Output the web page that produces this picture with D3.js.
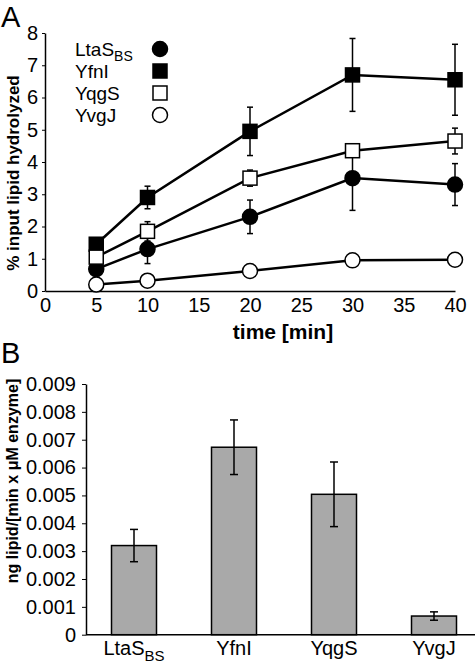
<!DOCTYPE html>
<html><head><meta charset="utf-8">
<script src="https://cdn.jsdelivr.net/npm/d3@7"></script>
<style>
body{margin:0;background:#fff;}
svg{display:block;font-family:"Liberation Sans",Arial,sans-serif;}
</style></head>
<body>
<svg id="c" width="475" height="668"></svg>
<script>
// ---- Data: panel A ----
const times = [5, 10, 20, 30, 40];
const seriesNames = ["LtaS", "YfnI", "YqgS", "YvgJ"];
const ltasVals = [0.68, 1.3, 2.3, 3.5, 3.3];
const ltasErr  = [0.08, 0.45, 0.52, 1.0, 0.65];
const yfniVals = [1.45, 2.9, 4.95, 6.7, 6.55];
const yfniErr  = [0.1, 0.35, 0.75, 1.13, 1.1];
const yqgsVals = [1.05, 1.85, 3.5, 4.35, 4.65];
const yqgsErr  = [0.08, 0.3, 0.25, 0.2, 0.4];
const yvgjVals = [0.2, 0.32, 0.62, 0.95, 0.97];
const yvgjErr  = [0.05, 0.06, 0.15, 0.08, 0.15];
const xTicksA = [0, 5, 10, 15, 20, 25, 30, 35, 40];
const yTicksA = [0, 1, 2, 3, 4, 5, 6, 7, 8];
// ---- Data: panel B ----
const barCats = ["LtaS", "YfnI", "YqgS", "YvgJ"];
const barVals = [0.0032, 0.00673, 0.00504, 0.00067];
const barErr  = [0.00058, 0.00098, 0.00116, 0.00015];
const yTicksB = [0, 0.001, 0.002, 0.003, 0.004, 0.005, 0.006, 0.007, 0.008, 0.009];

const svg = d3.select("#c");

// ================= Panel A =================
const xA = d3.scaleLinear().domain([0, 40]).range([45, 455]);
const yA = d3.scaleLinear().domain([0, 8]).range([291, 33]);
const gA = svg.append("g");

gA.append("text").attr("x", 1).attr("y", 27).attr("font-size", 29).text("A");

const axA = gA.append("g").attr("transform", "translate(0,291)")
  .call(d3.axisBottom(xA).tickValues(xTicksA).tickSize(0).tickPadding(7).tickFormat(d3.format("d")));
axA.select(".domain").attr("stroke", "#000").attr("stroke-width", 1.5);
axA.selectAll("text").attr("font-size", 20).attr("font-family", "Liberation Sans, Arial").attr("fill", "#000");

const ayA = gA.append("g").attr("transform", "translate(45,0)")
  .call(d3.axisLeft(yA).tickValues(yTicksA).tickSize(3).tickSizeOuter(0).tickPadding(4).tickFormat(d3.format("d")));
ayA.select(".domain").attr("stroke", "#000").attr("stroke-width", 1.5);
ayA.selectAll("line").attr("stroke", "#000");
ayA.selectAll("text").attr("font-size", 20).attr("font-family", "Liberation Sans, Arial").attr("fill", "#000");

gA.append("text").attr("x", 283).attr("y", 339).attr("text-anchor", "middle")
  .attr("font-size", 21).attr("font-weight", "bold").text("time [min]");
gA.append("text").attr("transform", "translate(19,173) rotate(-90)").attr("text-anchor", "middle")
  .attr("font-size", 17).attr("font-weight", "bold").text("% input lipid hydrolyzed");

const series = [
  {name: seriesNames[0], vals: ltasVals, err: ltasErr, shape: "circle", fill: "#000"},
  {name: seriesNames[1], vals: yfniVals, err: yfniErr, shape: "square", fill: "#000"},
  {name: seriesNames[2], vals: yqgsVals, err: yqgsErr, shape: "square", fill: "#fff"},
  {name: seriesNames[3], vals: yvgjVals, err: yvgjErr, shape: "circle", fill: "#fff"}
];
const line = d3.line().x(d => xA(d[0])).y(d => yA(d[1]));

function marker(g, shape, fill, cx, cy) {
  if (shape === "circle") {
    g.append("circle").attr("cx", cx).attr("cy", cy).attr("r", 7.5)
      .attr("fill", fill).attr("stroke", "#000").attr("stroke-width", 1.5);
  } else {
    g.append("rect").attr("x", cx - 7).attr("y", cy - 7).attr("width", 14).attr("height", 14)
      .attr("fill", fill).attr("stroke", "#000").attr("stroke-width", 1.5);
  }
}

series.forEach(s => {
  const pts = times.map((t, i) => [t, s.vals[i], s.err[i]]);
  // error bars
  pts.forEach(p => {
    const x = xA(p[0]);
    gA.append("line").attr("x1", x).attr("x2", x).attr("y1", yA(p[1] + p[2])).attr("y2", yA(p[1] - p[2]))
      .attr("stroke", "#000").attr("stroke-width", 1.5);
    [p[1] + p[2], p[1] - p[2]].forEach(v => {
      gA.append("line").attr("x1", x - 3).attr("x2", x + 3).attr("y1", yA(v)).attr("y2", yA(v))
        .attr("stroke", "#000").attr("stroke-width", 1.5);
    });
  });
  gA.append("path").datum(pts).attr("d", line).attr("fill", "none")
    .attr("stroke", "#000").attr("stroke-width", 2.5);
  pts.forEach(p => marker(gA, s.shape, s.fill, xA(p[0]), yA(p[1])));
});

// legend
series.forEach((s, i) => {
  const cy = 49 + i * 22;
  const t = gA.append("text").attr("x", 75).attr("y", cy + 7).attr("font-size", 19);
  t.append("tspan").text(s.name);
  if (i === 0) t.append("tspan").attr("dy", 5).attr("font-size", 14).text("BS");
  marker(gA, s.shape, s.fill, 160, cy);
});

// ================= Panel B =================
const xB = d3.scaleBand().domain(barCats).range([84, 484]).paddingInner(0.55).paddingOuter(0.275);
const yB = d3.scaleLinear().domain([0, 0.009]).range([634.7, 384]);
const gB = svg.append("g");

gB.append("text").attr("x", 1).attr("y", 363).attr("font-size", 29).text("B");

gB.selectAll("rect.bar").data(barCats).enter().append("rect").attr("class", "bar")
  .attr("x", d => xB(d)).attr("width", xB.bandwidth())
  .attr("y", (d, i) => yB(barVals[i])).attr("height", (d, i) => yB(0) - yB(barVals[i]))
  .attr("fill", "#a9a9a9").attr("stroke", "#000").attr("stroke-width", 1.5);

barCats.forEach((c, i) => {
  const x = xB(c) + xB.bandwidth() / 2;
  const hi = barVals[i] + barErr[i], lo = barVals[i] - barErr[i];
  gB.append("line").attr("x1", x).attr("x2", x).attr("y1", yB(hi)).attr("y2", yB(lo))
    .attr("stroke", "#000").attr("stroke-width", 1.5);
  [hi, lo].forEach(v => gB.append("line").attr("x1", x - 4).attr("x2", x + 4).attr("y1", yB(v)).attr("y2", yB(v))
    .attr("stroke", "#000").attr("stroke-width", 1.5));
});

const axB = gB.append("g").attr("transform", "translate(0,634.7)")
  .call(d3.axisBottom(xB).tickSize(0).tickPadding(8).tickFormat(() => ""));
axB.select(".domain").attr("d", "M86,0H475").attr("stroke", "#000").attr("stroke-width", 1.5);
axB.selectAll(".tick").each(function(d, i) {
  const t = d3.select(this).append("text").attr("y", 20).attr("text-anchor", "middle")
    .attr("font-size", 20).attr("font-family", "Liberation Sans, Arial").attr("fill", "#000");
  t.append("tspan").text(d);
  if (i === 0) t.append("tspan").attr("dy", 6).attr("font-size", 15).text("BS");
});

const ayB = gB.append("g").attr("transform", "translate(86,0)")
  .call(d3.axisLeft(yB).tickValues(yTicksB).tickSize(4).tickSizeOuter(0).tickPadding(6)
    .tickFormat(d => d === 0 ? "0" : d3.format(".3f")(d)));
ayB.select(".domain").attr("stroke", "#000").attr("stroke-width", 1.5);
ayB.selectAll("line").attr("stroke", "#000");
ayB.selectAll("text").attr("font-size", 20).attr("font-family", "Liberation Sans, Arial").attr("fill", "#000");

gB.append("text").attr("transform", "translate(18,481) rotate(-90)").attr("text-anchor", "middle")
  .attr("font-size", 16).attr("font-weight", "bold").text("ng lipid/[min x μM enzyme]");
</script>
</body></html>
